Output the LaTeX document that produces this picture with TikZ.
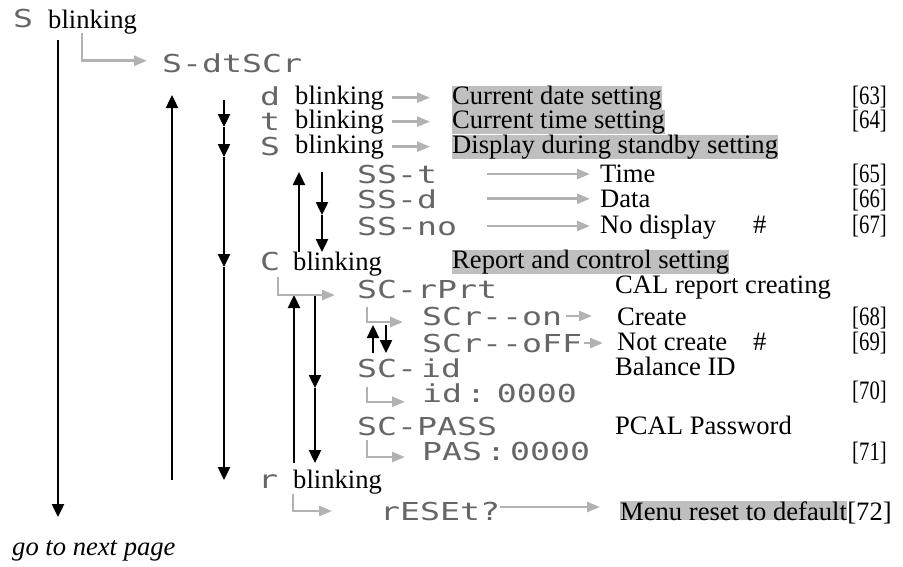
\documentclass[tikz,border=0pt]{standalone}
\usepackage{fontspec}
\setmainfont{Liberation Serif}
\newfontfamily\lcdfont[FakeStretch=1.345,WordSpace=0.2]{DejaVu Sans Mono}
\newfontfamily\reffont[FakeStretch=0.78]{Liberation Serif}
\usetikzlibrary{arrows.meta}
\tikzset {
  >={Triangle[width=12pt,length=13pt]},
  every node/.style={inner sep=0pt, anchor=base west, font=\fontsize{26.6}{28}\selectfont},
  lcd/.style={font=\fontsize{24.7}{26}\selectfont\lcdfont, text=black!60},
  hl/.style={fill=black!25},
  pg/.style={anchor=base east, font=\fontsize{26.6}{28}\selectfont\reffont},
  flow/.style={->, line width=2.4pt},
  jump/.style={-{Triangle[width=10pt,length=13pt]}, line width=2.6pt, draw=black!30},
}

\begin{document}
\begin{tikzpicture}[x=1pt,y=-1pt]
  \useasboundingbox (0,0) rectangle (903,566);
  % top level
  \node[lcd] (sTop) at (13,27) {S};
  \node (sTopB) at (48,28) {blinking};
  \node[lcd] (dtscr) at (162,72) {S-dtSCr};
  % date, time, standby
  \node[lcd] (dG) at (260,105) {d};
  \node (dB) at (295,104) {blinking};
  \node[hl] (dTxt) at (452,104) {Current date setting};
  \node[pg] (p63) at (887,104) {[63]};
  \node[lcd] (tG) at (260,130) {t};
  \node (tB) at (295,128) {blinking};
  \node[hl] (tTxt) at (452,128) {Current time setting};
  \node[pg] (p64) at (887,128) {[64]};
  \node[lcd] (sG) at (260,155) {S};
  \node (sB) at (295,153) {blinking};
  \node[hl] (sTxt) at (452,153) {Display during standby setting};
  \node[lcd] (sst) at (357,183) {SS-t};
  \node (timeTxt) at (600,182) {Time};
  \node[pg] (p65) at (887,182) {[65]};
  \node[lcd] (ssd) at (357,208) {SS-d};
  \node (dataTxt) at (600,207) {Data};
  \node[pg] (p66) at (887,207) {[66]};
  \node[lcd] (ssno) at (357,235) {SS-no};
  \node (noTxt) at (600,233) {No display};
  \node (hashA) at (753,233) {\#};
  \node[pg] (p67) at (887,233) {[67]};
  % report and control
  \node[lcd] (cG) at (260,270) {C};
  \node (cB) at (293,270) {blinking};
  \node[hl] (cTxt) at (452,268) {Report and control setting};
  \node[lcd] (rprt) at (357,298) {SC-rPrt};
  \node (calTxt) at (615,293) {CAL report creating};
  \node[lcd] (scon) at (422,325) {SCr--on};
  \node (createTxt) at (617,325) {Create};
  \node[pg] (p68) at (887,325) {[68]};
  \node[lcd] (scoff) at (422,352) {SCr--oFF};
  \node (ncreateTxt) at (617,350) {Not create};
  \node (hashB) at (753,350) {\#};
  \node[pg] (p69) at (887,350) {[69]};
  \node[lcd] (scid) at (357,377) {SC- id};
  \node (balTxt) at (615,375) {Balance ID};
  \node[lcd] (idval) at (422,402) {id : 0000};
  \node[pg] (p70) at (887,399) {[70]};
  \node[lcd] (scpass) at (357,435) {SC-PASS};
  \node (pcalTxt) at (615,434) {PCAL Password};
  \node[lcd] (pasval) at (422,460) {PAS : 0000};
  \node[pg] (p71) at (887,460) {[71]};
  % reset
  \node[lcd] (rG) at (258,488) {r};
  \node (rB) at (293,488) {blinking};
  \node[lcd] (reset) at (380,520) {rESEt?};
  \node[hl] (menuTxt) at (620,520) {Menu reset to default};
  \node (p72) at (menuTxt.base east) {[72]};
  \node (nextpg) at (12,555) {\itshape go to next page};

  % black key arrows
  \coordinate (a0) at (58,40);   \coordinate (a1) at (58,517);
  \coordinate (b0) at (172,480); \coordinate (b1) at (172,95);
  \coordinate (c0) at (224,100); \coordinate (c1) at (224,127);
  \coordinate (c2) at (224,157); \coordinate (c3) at (224,267);
  \coordinate (c4) at (224,480);
  \coordinate (d0) at (299,252); \coordinate (d1) at (299,172);
  \coordinate (e0) at (322,172); \coordinate (e1) at (322,215);
  \coordinate (e2) at (322,252);
  \coordinate (f0) at (294,463); \coordinate (f1) at (294,295);
  \coordinate (g0) at (315,295); \coordinate (g1) at (315,388);
  \coordinate (g2) at (315,463);
  \coordinate (h0) at (373,353); \coordinate (h1) at (373,325);
  \coordinate (i0) at (386,325); \coordinate (i1) at (386,353);
  \draw[flow] (a0) -- (a1);
  \draw[flow] (b0) -- (b1);
  \draw[flow] (c0) -- (c1);
  \draw[flow] (c1) -- (c2);
  \draw[flow] (c2) -- (c3);
  \draw[flow] (c3) -- (c4);
  \draw[flow] (d0) -- (d1);
  \draw[flow] (e0) -- (e1);
  \draw[flow] (e1) -- (e2);
  \draw[flow] (f0) -- (f1);
  \draw[flow] (g0) -- (g1);
  \draw[flow] (g1) -- (g2);
  \draw[flow] (h0) -- (h1);
  \draw[flow] (i0) -- (i1);

  % grey arrows
  \coordinate (j0) at (82,33);
  \coordinate (j1) at (278,277);
  \coordinate (j2) at (367,307);
  \coordinate (j3) at (367,387);
  \coordinate (j4) at (367,440);
  \coordinate (j5) at (293,494);
  \draw[jump, shorten >=15pt] (j0) |- ([yshift=2pt]dtscr.west);
  \draw[jump, shorten <=8pt, shorten >=22pt] (dB.east) -- (dB.east -| dTxt.west);
  \draw[jump, shorten <=8pt, shorten >=22pt] (tB.east) -- (tB.east -| tTxt.west);
  \draw[jump, shorten <=8pt, shorten >=22pt] (sB.east) -- (sB.east -| sTxt.west);
  \draw[jump, shorten <=50pt, shorten >=10pt] (sst.east) -- (sst.east -| timeTxt.west);
  \draw[jump, shorten <=50pt, shorten >=10pt] (ssd.east) -- (ssd.east -| dataTxt.west);
  \draw[jump, shorten <=30pt, shorten >=10pt] (ssno.east) -- (ssno.east -| noTxt.west);
  \draw[jump, shorten >=22pt] (j1) |- ([yshift=-6pt]rprt.west);
  \draw[jump, shorten >=19pt] (j2) |- ([yshift=-6pt]scon.west);
  \draw[jump, shorten <=4pt, shorten >=25pt] (scon.east) -- (scon.east -| createTxt.west);
  \draw[jump, shorten <=2pt, shorten >=14pt] (scoff.east) -- (scoff.east -| ncreateTxt.west);
  \draw[jump, shorten >=17pt] (j3) |- ([yshift=-9pt]idval.west);
  \draw[jump, shorten >=17pt] (j4) |- ([yshift=-6pt]pasval.west);
  \draw[jump, shorten >=48pt] (j5) |- (reset.west);
  \draw[jump, shorten >=20pt] ([yshift=4pt]reset.east) -- ([yshift=4pt]reset.east -| menuTxt.west);
\end{tikzpicture}
\end{document}
